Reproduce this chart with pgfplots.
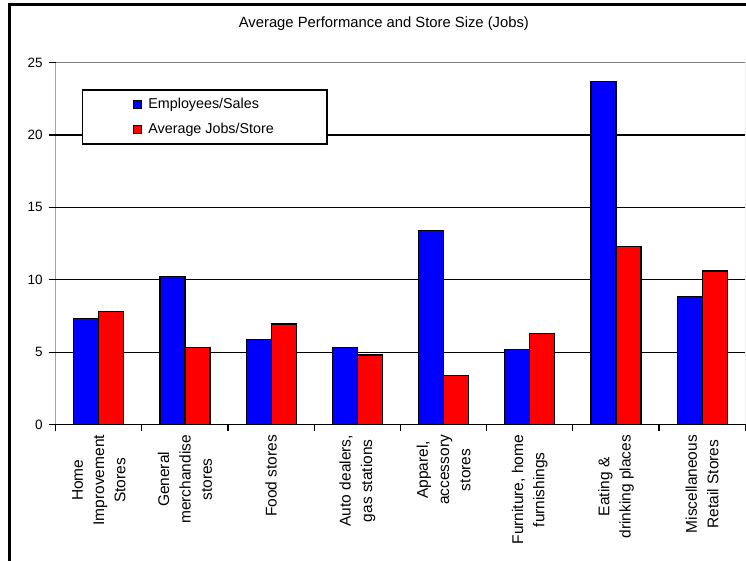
\documentclass[border=0pt]{standalone}
\usepackage{pgfplots}
\pgfplotsset{compat=1.18}
\usepackage{fontspec}
\setmainfont{Liberation Sans}

\definecolor{xlblue}{RGB}{0,0,255}
\definecolor{xlred}{RGB}{255,0,0}

\begin{document}
\begin{tikzpicture}
\useasboundingbox (0pt,0pt) rectangle (746pt,561pt);
% outer chart frame
\draw[line width=2.4pt] (9.5pt,0pt) -- (9.5pt,556.3pt) -- (746pt,556.3pt);
\begin{axis}[
  at={(55.7pt,136.5pt)}, anchor=south west,
  scale only axis, width=689.5pt, height=361.8pt,
  ybar=0pt, bar width=25pt,
  xmin=-0.5, xmax=7.5, ymin=0, ymax=25,
  axis line style={draw=none},
  /pgf/number format/assume math mode=true,
  tick align=outside, tick pos=left,
  major tick length=7pt,
  tick style={black, line width=1.2pt},
  ytick={0,5,15,25},
  extra y ticks={10,20},
  extra y tick style={grid=major, grid style={black, line width=1.4pt}},
  ymajorgrids, grid style={black, line width=0.7pt},
  yticklabel style={font=\fontsize{13.5}{15}\selectfont, xshift=-2.5pt},
  xtick={-0.5,0.5,...,7.5}, xticklabels={},
  extra x ticks={0,...,7},
  extra x tick labels={Home\\Improvement\\Stores, General\\merchandise\\stores, Food stores, {Auto dealers,\\gas stations}, {Apparel,\\accessory\\stores}, {Furniture, home\\furnishings}, Eating \&\\drinking places, Miscellaneous\\Retail Stores},
  extra x tick style={grid=none, tick style={draw=none},
    tick label style={rotate=90, anchor=east, align=center, font=\fontsize{15.5}{21.3}\selectfont}},
  title={Average Performance and Store Size (Jobs)},
  title style={font=\fontsize{14.8}{17}\selectfont, at={(0.476,1.0905)}, anchor=center},
  legend cell align=left,
  legend style={at={(0.0377,0.9265)}, anchor=north west, draw=black, line width=1.5pt,
    fill=white, font=\fontsize{14.3}{16}\selectfont, inner xsep=51pt, inner ysep=6.5pt, row sep=9pt,
    /tikz/every odd column/.append style={column sep=4pt}},
  legend image code/.code={\draw[#1, line width=1pt] (0pt,-4pt) rectangle (8pt,4pt);},
]
\addplot[fill=xlblue, draw=black, line width=1.2pt]
  coordinates {(0,7.3) (1,10.2) (2,5.9) (3,5.3) (4,13.4) (5,5.2) (6,23.7) (7,8.85)};
\addplot[fill=xlred, draw=black, line width=1.2pt]
  coordinates {(0,7.8) (1,5.3) (2,6.95) (3,4.8) (4,3.4) (5,6.3) (6,12.3) (7,10.6)};
\draw[gray, line width=1.3pt] (rel axis cs:0,1) -- (rel axis cs:1,1) -- (rel axis cs:1,0);
\draw[black, line width=1.5pt] (rel axis cs:0,1) -- (rel axis cs:0,0) -- (rel axis cs:1,0);
\legend{Employees/Sales, Average Jobs/Store}
\end{axis}
\end{tikzpicture}
\end{document}
